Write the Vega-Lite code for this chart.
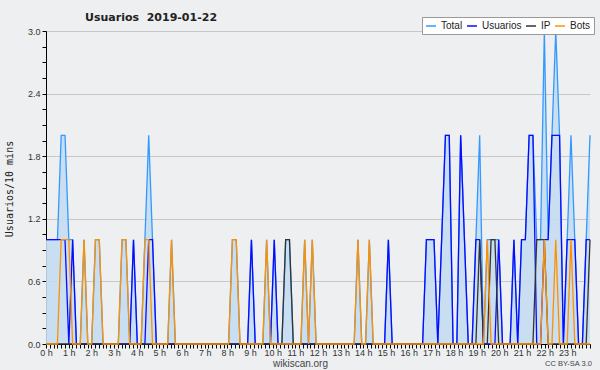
{
"$schema":"https://vega.github.io/schema/vega-lite/v6.json",
"width":544,"height":313,
"autosize":{"type":"none"},
"padding":{"left":46,"top":31,"right":10,"bottom":26},
"background":"#eeeff1",
"config":{"view":{"stroke":null},"font":"Liberation Sans"},
"title":{"text":"Usuarios\u00a0 2019-01-22","font":"DejaVu Sans","fontSize":11,"fontWeight":"bold","color":"#222222","anchor":"start","frame":"group","dx":39,"offset":-15,"baseline":"alphabetic"},
"data":{"values":[
{"i":0,"total":1,"usuarios":1,"ip":0,"bots":0},{"i":1,"total":1,"usuarios":1,"ip":0,"bots":0},{"i":2,"total":1,"usuarios":1,"ip":0,"bots":0},{"i":3,"total":1,"usuarios":1,"ip":0,"bots":0},
{"i":4,"total":2,"usuarios":1,"ip":0,"bots":1},{"i":5,"total":2,"usuarios":1,"ip":0,"bots":1},{"i":6,"total":1,"usuarios":0,"ip":0,"bots":1},{"i":7,"total":1,"usuarios":1,"ip":0,"bots":0},
{"i":8,"total":0,"usuarios":0,"ip":0,"bots":0},{"i":9,"total":0,"usuarios":0,"ip":0,"bots":0},{"i":10,"total":1,"usuarios":0,"ip":0,"bots":1},{"i":11,"total":0,"usuarios":0,"ip":0,"bots":0},
{"i":12,"total":0,"usuarios":0,"ip":0,"bots":0},{"i":13,"total":1,"usuarios":0,"ip":0,"bots":1},{"i":14,"total":1,"usuarios":0,"ip":0,"bots":1},{"i":15,"total":0,"usuarios":0,"ip":0,"bots":0},
{"i":16,"total":0,"usuarios":0,"ip":0,"bots":0},{"i":17,"total":0,"usuarios":0,"ip":0,"bots":0},{"i":18,"total":0,"usuarios":0,"ip":0,"bots":0},{"i":19,"total":0,"usuarios":0,"ip":0,"bots":0},
{"i":20,"total":1,"usuarios":0,"ip":0,"bots":1},{"i":21,"total":1,"usuarios":0,"ip":0,"bots":1},{"i":22,"total":0,"usuarios":0,"ip":0,"bots":0},{"i":23,"total":1,"usuarios":1,"ip":0,"bots":0},
{"i":24,"total":0,"usuarios":0,"ip":0,"bots":0},{"i":25,"total":0,"usuarios":0,"ip":0,"bots":0},{"i":26,"total":1,"usuarios":0,"ip":0,"bots":1},{"i":27,"total":2,"usuarios":1,"ip":0,"bots":1},
{"i":28,"total":1,"usuarios":1,"ip":0,"bots":0},{"i":29,"total":0,"usuarios":0,"ip":0,"bots":0},{"i":30,"total":0,"usuarios":0,"ip":0,"bots":0},{"i":31,"total":0,"usuarios":0,"ip":0,"bots":0},
{"i":32,"total":0,"usuarios":0,"ip":0,"bots":0},{"i":33,"total":1,"usuarios":0,"ip":0,"bots":1},{"i":34,"total":0,"usuarios":0,"ip":0,"bots":0},{"i":35,"total":0,"usuarios":0,"ip":0,"bots":0},
{"i":36,"total":0,"usuarios":0,"ip":0,"bots":0},{"i":37,"total":0,"usuarios":0,"ip":0,"bots":0},{"i":38,"total":0,"usuarios":0,"ip":0,"bots":0},{"i":39,"total":0,"usuarios":0,"ip":0,"bots":0},
{"i":40,"total":0,"usuarios":0,"ip":0,"bots":0},{"i":41,"total":0,"usuarios":0,"ip":0,"bots":0},{"i":42,"total":0,"usuarios":0,"ip":0,"bots":0},{"i":43,"total":0,"usuarios":0,"ip":0,"bots":0},
{"i":44,"total":0,"usuarios":0,"ip":0,"bots":0},{"i":45,"total":0,"usuarios":0,"ip":0,"bots":0},{"i":46,"total":0,"usuarios":0,"ip":0,"bots":0},{"i":47,"total":0,"usuarios":0,"ip":0,"bots":0},
{"i":48,"total":0,"usuarios":0,"ip":0,"bots":0},{"i":49,"total":1,"usuarios":0,"ip":0,"bots":1},{"i":50,"total":1,"usuarios":0,"ip":0,"bots":1},{"i":51,"total":0,"usuarios":0,"ip":0,"bots":0},
{"i":52,"total":0,"usuarios":0,"ip":0,"bots":0},{"i":53,"total":0,"usuarios":0,"ip":0,"bots":0},{"i":54,"total":1,"usuarios":1,"ip":0,"bots":0},{"i":55,"total":0,"usuarios":0,"ip":0,"bots":0},
{"i":56,"total":0,"usuarios":0,"ip":0,"bots":0},{"i":57,"total":0,"usuarios":0,"ip":0,"bots":0},{"i":58,"total":1,"usuarios":0,"ip":0,"bots":1},{"i":59,"total":0,"usuarios":0,"ip":0,"bots":0},
{"i":60,"total":1,"usuarios":1,"ip":0,"bots":0},{"i":61,"total":0,"usuarios":0,"ip":0,"bots":0},{"i":62,"total":0,"usuarios":0,"ip":0,"bots":0},{"i":63,"total":1,"usuarios":0,"ip":1,"bots":0},
{"i":64,"total":1,"usuarios":0,"ip":1,"bots":0},{"i":65,"total":0,"usuarios":0,"ip":0,"bots":0},{"i":66,"total":0,"usuarios":0,"ip":0,"bots":0},{"i":67,"total":0,"usuarios":0,"ip":0,"bots":0},
{"i":68,"total":1,"usuarios":0,"ip":0,"bots":1},{"i":69,"total":0,"usuarios":0,"ip":0,"bots":0},{"i":70,"total":1,"usuarios":0,"ip":0,"bots":1},{"i":71,"total":0,"usuarios":0,"ip":0,"bots":0},
{"i":72,"total":0,"usuarios":0,"ip":0,"bots":0},{"i":73,"total":0,"usuarios":0,"ip":0,"bots":0},{"i":74,"total":0,"usuarios":0,"ip":0,"bots":0},{"i":75,"total":0,"usuarios":0,"ip":0,"bots":0},
{"i":76,"total":0,"usuarios":0,"ip":0,"bots":0},{"i":77,"total":0,"usuarios":0,"ip":0,"bots":0},{"i":78,"total":0,"usuarios":0,"ip":0,"bots":0},{"i":79,"total":0,"usuarios":0,"ip":0,"bots":0},
{"i":80,"total":0,"usuarios":0,"ip":0,"bots":0},{"i":81,"total":0,"usuarios":0,"ip":0,"bots":0},{"i":82,"total":1,"usuarios":0,"ip":0,"bots":1},{"i":83,"total":0,"usuarios":0,"ip":0,"bots":0},
{"i":84,"total":0,"usuarios":0,"ip":0,"bots":0},{"i":85,"total":1,"usuarios":0,"ip":0,"bots":1},{"i":86,"total":0,"usuarios":0,"ip":0,"bots":0},{"i":87,"total":0,"usuarios":0,"ip":0,"bots":0},
{"i":88,"total":0,"usuarios":0,"ip":0,"bots":0},{"i":89,"total":0,"usuarios":0,"ip":0,"bots":0},{"i":90,"total":1,"usuarios":1,"ip":0,"bots":0},{"i":91,"total":0,"usuarios":0,"ip":0,"bots":0},
{"i":92,"total":0,"usuarios":0,"ip":0,"bots":0},{"i":93,"total":0,"usuarios":0,"ip":0,"bots":0},{"i":94,"total":0,"usuarios":0,"ip":0,"bots":0},{"i":95,"total":0,"usuarios":0,"ip":0,"bots":0},
{"i":96,"total":0,"usuarios":0,"ip":0,"bots":0},{"i":97,"total":0,"usuarios":0,"ip":0,"bots":0},{"i":98,"total":0,"usuarios":0,"ip":0,"bots":0},{"i":99,"total":0,"usuarios":0,"ip":0,"bots":0},
{"i":100,"total":1,"usuarios":1,"ip":0,"bots":0},{"i":101,"total":1,"usuarios":1,"ip":0,"bots":0},{"i":102,"total":1,"usuarios":1,"ip":0,"bots":0},{"i":103,"total":0,"usuarios":0,"ip":0,"bots":0},
{"i":104,"total":1,"usuarios":1,"ip":0,"bots":0},{"i":105,"total":2,"usuarios":2,"ip":0,"bots":0},{"i":106,"total":2,"usuarios":2,"ip":0,"bots":0},{"i":107,"total":0,"usuarios":0,"ip":0,"bots":0},
{"i":108,"total":0,"usuarios":0,"ip":0,"bots":0},{"i":109,"total":2,"usuarios":2,"ip":0,"bots":0},{"i":110,"total":1,"usuarios":1,"ip":0,"bots":0},{"i":111,"total":0,"usuarios":0,"ip":0,"bots":0},
{"i":112,"total":0,"usuarios":0,"ip":0,"bots":0},{"i":113,"total":1,"usuarios":1,"ip":0,"bots":0},{"i":114,"total":2,"usuarios":1,"ip":1,"bots":0},{"i":115,"total":0,"usuarios":0,"ip":0,"bots":0},
{"i":116,"total":1,"usuarios":0,"ip":0,"bots":1},{"i":117,"total":1,"usuarios":0,"ip":1,"bots":0},{"i":118,"total":1,"usuarios":0,"ip":1,"bots":0},{"i":119,"total":1,"usuarios":1,"ip":0,"bots":0},
{"i":120,"total":0,"usuarios":0,"ip":0,"bots":0},{"i":121,"total":0,"usuarios":0,"ip":0,"bots":0},{"i":122,"total":0,"usuarios":0,"ip":0,"bots":0},{"i":123,"total":1,"usuarios":1,"ip":0,"bots":0},
{"i":124,"total":0,"usuarios":0,"ip":0,"bots":0},{"i":125,"total":1,"usuarios":1,"ip":0,"bots":0},{"i":126,"total":1,"usuarios":1,"ip":0,"bots":0},{"i":127,"total":2,"usuarios":2,"ip":0,"bots":0},
{"i":128,"total":2,"usuarios":2,"ip":0,"bots":0},{"i":129,"total":1,"usuarios":0,"ip":1,"bots":0},{"i":130,"total":1,"usuarios":0,"ip":1,"bots":0},{"i":131,"total":3,"usuarios":1,"ip":1,"bots":1},
{"i":132,"total":1,"usuarios":1,"ip":0,"bots":0},{"i":133,"total":2,"usuarios":2,"ip":0,"bots":0},{"i":134,"total":3,"usuarios":2,"ip":0,"bots":1},{"i":135,"total":2,"usuarios":2,"ip":0,"bots":0},
{"i":136,"total":0,"usuarios":0,"ip":0,"bots":0},{"i":137,"total":1,"usuarios":1,"ip":0,"bots":0},{"i":138,"total":2,"usuarios":1,"ip":0,"bots":1},{"i":139,"total":1,"usuarios":1,"ip":0,"bots":0},
{"i":140,"total":0,"usuarios":0,"ip":0,"bots":0},{"i":141,"total":0,"usuarios":0,"ip":0,"bots":0},{"i":142,"total":1,"usuarios":1,"ip":0,"bots":0},{"i":143,"total":2,"usuarios":1,"ip":1,"bots":0}
]},
"encoding":{
"x":{"field":"i","type":"quantitative","scale":{"domain":[0,143],"nice":false,"zero":false},
"axis":{"values":[0,0.99306,1.98611,2.97917,3.97222,4.96528,5.95833,6.95139,7.94444,8.9375,9.93056,10.92361,11.91667,12.90972,13.90278,14.89583,15.88889,16.88194,17.875,18.86806,19.86111,20.85417,21.84722,22.84028,23.83333,24.82639,25.81944,26.8125,27.80556,28.79861,29.79167,30.78472,31.77778,32.77083,33.76389,34.75694,35.75,36.74306,37.73611,38.72917,39.72222,40.71528,41.70833,42.70139,43.69444,44.6875,45.68056,46.67361,47.66667,48.65972,49.65278,50.64583,51.63889,52.63194,53.625,54.61806,55.61111,56.60417,57.59722,58.59028,59.58333,60.57639,61.56944,62.5625,63.55556,64.54861,65.54167,66.53472,67.52778,68.52083,69.51389,70.50694,71.5,72.49306,73.48611,74.47917,75.47222,76.46528,77.45833,78.45139,79.44444,80.4375,81.43056,82.42361,83.41667,84.40972,85.40278,86.39583,87.38889,88.38194,89.375,90.36806,91.36111,92.35417,93.34722,94.34028,95.33333,96.32639,97.31944,98.3125,99.30556,100.29861,101.29167,102.28472,103.27778,104.27083,105.26389,106.25694,107.25,108.24306,109.23611,110.22917,111.22222,112.21528,113.20833,114.20139,115.19444,116.1875,117.18056,118.17361,119.16667,120.15972,121.15278,122.14583,123.13889,124.13194,125.125,126.11806,127.11111,128.10417,129.09722,130.09028,131.08333,132.07639,133.06944,134.0625,135.05556,136.04861,137.04167,138.03472,139.02778,140.02083,141.01389,142.00694,143],
"labelExpr":"(round(datum.value*144/143) % 6 == 0 && round(datum.value*144/143) < 144) ? (round(datum.value*144/143)/6) + ' h' : ''",
"labelOverlap":false,"labelFlush":false,"labelFont":"Liberation Sans","labelFontSize":9,"labelColor":"#333333","labelPadding":0,
"tickSize":4,"tickColor":"#000000","domainColor":"#000000","grid":false,
"title":"wikiscan.org","titleFont":"Liberation Sans","titleFontSize":10,"titleFontWeight":"normal","titleColor":"#444444","titleX":254,"titleY":22,"titleAlign":"center","titleAnchor":null,"titleBaseline":"alphabetic"}}
},
"resolve":{"scale":{"y":"independent"},"axis":{"y":"independent"}},
"layer":[
{"mark":{"type":"area","color":"#c4dbf0","opacity":0.9},
 "encoding":{"y":{"field":"total","type":"quantitative","scale":{"domain":[0,3],"nice":false},
  "axis":{"orient":"right","labels":false,"ticks":false,"domain":false,"grid":false,"title":"CC BY-SA 3.0","titleAngle":0,"titleX":-22,"titleY":334,"titleAlign":"center","titleBaseline":"alphabetic","titleFont":"Liberation Sans","titleFontSize":7.5,"titleFontWeight":"normal","titleColor":"#444444"}}}},
{"mark":{"type":"line","strokeWidth":1.3},
 "encoding":{"y":{"field":"total","type":"quantitative","scale":{"domain":[0,3],"nice":false},
  "axis":{"values":[0,0.15,0.3,0.45,0.6,0.75,0.9,1.05,1.2,1.35,1.5,1.65,1.8,1.95,2.1,2.25,2.4,2.55,2.7,2.85,3.0],
   "labelExpr":"abs(datum.value/0.6 - round(datum.value/0.6)) < 0.001 ? format(datum.value,'.1f') : ''",
   "grid":true,"gridColor":"#c8c8c8","gridOpacity":{"condition":{"test":"abs(datum.value/0.6 - round(datum.value/0.6)) < 0.001","value":1},"value":0},
   "tickSize":4,"tickColor":"#000000","domainColor":"#000000","labelFont":"Liberation Sans","labelFontSize":9,"labelColor":"#333333","labelPadding":2,"labelOverlap":false,"labelFlush":false,
   "title":"Usuarios/10 mins","titleFont":"DejaVu Sans Mono","titleFontSize":10,"titleFontWeight":"normal","titleColor":"#222222","titleX":-37,"titleY":157.5,"titleAngle":270,"titleAlign":"center","titleBaseline":"middle"}},
  "color":{"datum":"Total","type":"nominal","scale":{"domain":["Total","Usuarios","IP","Bots"],"range":["#3399ff","#0a0aff","#333333","#ff9000"]},
   "legend":{"orient":"none","legendX":376,"legendY":-14,"direction":"horizontal","title":null,"fillColor":"#ffffff","strokeColor":"#999999","padding":3,"cornerRadius":0,"symbolType":"stroke","symbolSize":100,"symbolStrokeWidth":1.5,"labelFont":"Liberation Sans","labelFontSize":10,"labelColor":"#222222","labelOffset":4,"columnPadding":1}}}},
{"mark":{"type":"line","strokeWidth":1.3},
 "encoding":{"y":{"field":"usuarios","type":"quantitative","scale":{"domain":[0,3],"nice":false},"axis":null},
  "color":{"datum":"Usuarios","type":"nominal"}}},
{"mark":{"type":"line","strokeWidth":1.3},
 "encoding":{"y":{"field":"ip","type":"quantitative","scale":{"domain":[0,3],"nice":false},"axis":null},
  "color":{"datum":"IP","type":"nominal"}}},
{"mark":{"type":"line","strokeWidth":1.3},
 "encoding":{"y":{"field":"bots","type":"quantitative","scale":{"domain":[0,3],"nice":false},"axis":null},
  "color":{"datum":"Bots","type":"nominal"}}}
]
}
